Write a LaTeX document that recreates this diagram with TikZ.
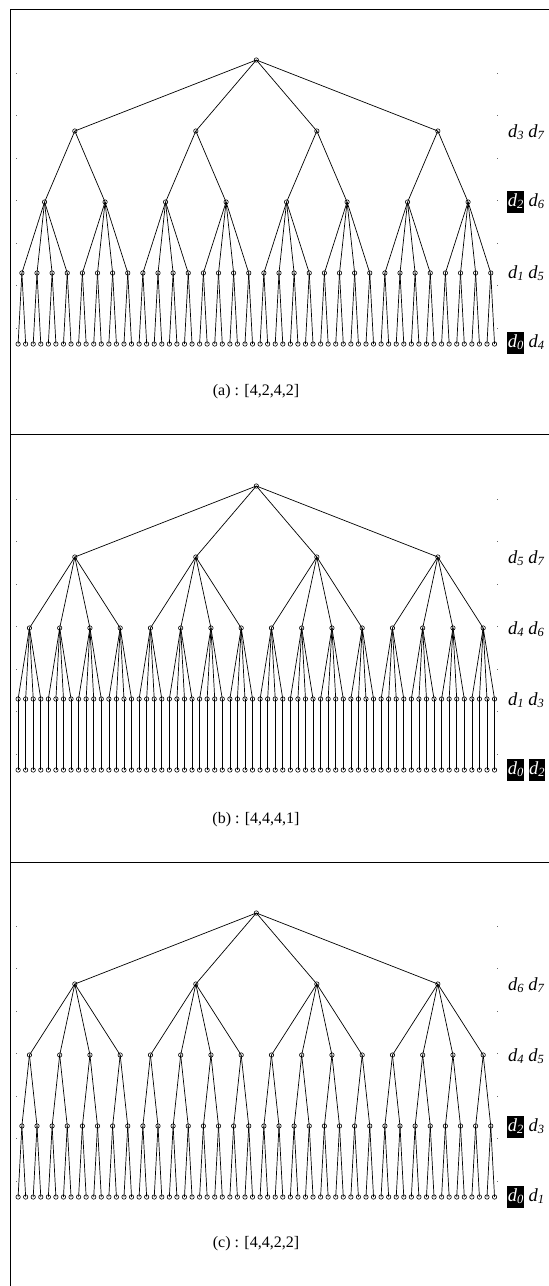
\documentclass[tikz,border=0pt]{standalone}
\usepackage{fontspec}
\setmainfont{Liberation Serif}
\usetikzlibrary{calc}
\tikzset{
  tn/.style={circle,draw=black,line width=0.6pt,inner sep=0pt,minimum size=4.4pt},
  edge/.style={draw=black,line width=0.7pt},
  frame/.style={draw=black,line width=1pt},
  lbl/.style={anchor=west,inner sep=0pt,font=\fontsize{18.5}{20}\selectfont\itshape},
  captxt/.style={inner sep=0pt,font=\fontsize{16}{19}\selectfont},
  tick/.style={fill=black!60,inner sep=0pt,minimum size=0.8pt,shape=rectangle}
}
\newcommand\dsub[1]{d{\fontsize{12.5}{12}\selectfont\raisebox{-2.5pt}{#1}}}
\newcommand\hlb[1]{{\setlength\fboxsep{0.6pt}\colorbox{black}{\color{white}\strut\dsub{#1}}}}
\def\sx{7.5625}
\def\xo{18.1}
\newcommand\treelevel[4]{%
  \pgfmathtruncatemacro\cnt{64/#3-1}%
  \foreach \j in {0,...,\cnt}{%
    \pgfmathsetmacro\xx{\xo+\sx*(\j*#3+(#3-1)/2)}%
    \node[tn] (#1-#2-\j) at (\xx,#4) {};
  }%
}
\newcommand\treeedges[4]{%
  \pgfmathtruncatemacro\cnt{64/#3-1}%
  \pgfmathtruncatemacro\ratio{#4/#3}%
  \pgfmathtruncatemacro\pl{#2-1}%
  \foreach \j in {0,...,\cnt}{%
    \pgfmathtruncatemacro\pj{floor(\j/\ratio)}%
    \draw[edge] (#1-\pl-\pj.center) -- (#1-#2-\j.center);
  }%
}
% #1 panel, #2 root y, #3..#6 spans of levels 1..4
\newcommand\tree[6]{%
  \treelevel{#1}{0}{64}{#2}
  \treelevel{#1}{1}{#3}{#2+71}
  \treelevel{#1}{2}{#4}{#2+142}
  \treelevel{#1}{3}{#5}{#2+213}
  \treelevel{#1}{4}{#6}{#2+284}
  \treeedges{#1}{1}{#3}{64}
  \treeedges{#1}{2}{#4}{#3}
  \treeedges{#1}{3}{#5}{#4}
  \treeedges{#1}{4}{#6}{#5}
  \foreach \k in {0,...,6}{%
    \node[tick] (#1-tl\k) at (16,#2+13+42.5*\k) {};
    \node[tick] (#1-tr\k) at (497,#2+13+42.5*\k) {};
  }%
}
\begin{document}
\begin{tikzpicture}[x=1pt,y=-1pt]
\useasboundingbox (0,0) rectangle (549,1286);
\fill[white] (0,0) rectangle (549,1286);
% frame
\draw[frame] (10,1286) -- (10,9) -- (549,9);
\draw[frame] (10,434) -- (549,434);
\draw[frame] (10,862) -- (549,862);
% panel a [4,2,4,2]
\tree{a}{60}{16}{8}{2}{1}
\node[lbl] (a-l1) at (508,132) {\dsub{3} \dsub{7}};
\node[lbl] (a-l2) at (507,202) {\hlb{2} \dsub{6}};
\node[lbl] (a-l3) at (508,273) {\dsub{1} \dsub{5}};
\node[lbl] (a-l4) at (507,343) {\hlb{0} \dsub{4}};
\node[captxt] (a-cap) at (256,392) {(a) : [4,2,4,2]};
% panel b [4,4,4,1]
\tree{b}{486}{16}{4}{1}{1}
\node[lbl] (b-l1) at (508,558) {\dsub{5} \dsub{7}};
\node[lbl] (b-l2) at (508,629) {\dsub{4} \dsub{6}};
\node[lbl] (b-l3) at (508,700) {\dsub{1} \dsub{3}};
\node[lbl] (b-l4) at (507,770) {\hlb{0} \hlb{2}};
\node[captxt] (b-cap) at (256,820) {(b) : [4,4,4,1]};
% panel c [4,4,2,2]
\tree{c}{913}{16}{4}{2}{1}
\node[lbl] (c-l1) at (508,985) {\dsub{6} \dsub{7}};
\node[lbl] (c-l2) at (508,1056) {\dsub{4} \dsub{5}};
\node[lbl] (c-l3) at (507,1127) {\hlb{2} \dsub{3}};
\node[lbl] (c-l4) at (507,1197) {\hlb{0} \dsub{1}};
\node[captxt] (c-cap) at (256,1244) {(c) : [4,4,2,2]};
\end{tikzpicture}
\end{document}
